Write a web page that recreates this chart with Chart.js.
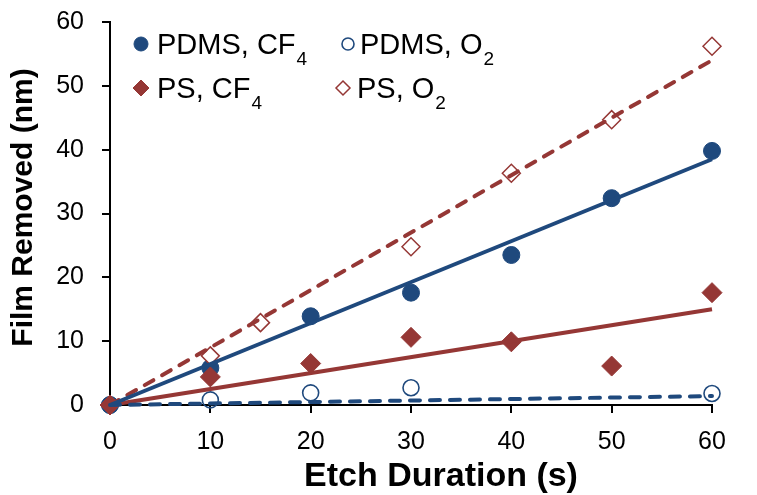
<!DOCTYPE html>
<html>
<head>
<meta charset="utf-8">
<script src="https://cdn.jsdelivr.net/npm/chart.js@4/dist/chart.umd.min.js"></script>
<style>
  html, body { margin: 0; padding: 0; background: #fff; }
  #wrap { width: 757px; height: 495px; }
</style>
</head>
<body>
<div id="wrap"><canvas id="c" width="757" height="495"></canvas></div>
<script>
// Etch time (s) and film removed (nm) for each polymer / plasma combination
const etchTimes   = [0, 10, 20, 30, 40, 50, 60];
const pdmsCF4     = [0, 5.8, 13.9, 17.6, 23.5, 32.4, 39.8];
const pdmsO2Times = [0, 10, 20, 30, 60];
const pdmsO2      = [0, 0.8, 1.9, 2.7, 1.8];
const psCF4       = [0, 4.4, 6.5, 10.6, 9.9, 6.1, 17.6];
const psO2Times   = [0, 10, 15, 30, 40, 50, 60];
const psO2        = [0, 7.7, 12.9, 24.8, 36.3, 44.7, 56.2];

// Linear fits through the origin: start and end of each fitted line
const fitRange    = [0, 60];
const fitPdmsCF4  = [0, 38.5];
const fitPdmsO2   = [0, 1.4];
const fitPsCF4    = [0, 15.0];
const fitPsO2     = [0, 54.0];

const xTicks = [0, 10, 20, 30, 40, 50, 60];
const yTicks = [0, 10, 20, 30, 40, 50, 60];

const xTitle = 'Etch Duration (s)';
const yTitle = 'Film Removed (nm)';

// Legend text: main part and subscript
const legendNames = [
  ['PDMS, CF', '4'],
  ['PDMS, O', '2'],
  ['PS, CF', '4'],
  ['PS, O', '2']
];

const NAVY = '#1F497D';
const RED  = '#953735';
const FONT = '"Liberation Sans", Arial, Helvetica, sans-serif';

const pts = (xs, ys) => xs.map((x, i) => ({ x: x, y: ys[i] }));

const markerSets = [
  { data: pts(etchTimes, pdmsCF4),  style: 'circle',  fill: NAVY, stroke: NAVY, r: 8.5, bw: 1,   order: 3 },
  { data: pts(pdmsO2Times, pdmsO2), style: 'circle',  fill: 'rgba(255,255,255,0)', stroke: NAVY, r: 8, bw: 1.6, order: 4 },
  { data: pts(etchTimes, psCF4),    style: 'rectRot', fill: RED,  stroke: RED,  r: 10,  bw: 1,   order: 1 },
  { data: pts(psO2Times, psO2),     style: 'rectRot', fill: '#fff', stroke: RED, r: 9,  bw: 1.5, order: 2 }
];

const fitSets = [
  { data: pts(fitRange, fitPdmsCF4), color: NAVY, dash: [] },
  { data: pts(fitRange, fitPdmsO2),  color: NAVY, dash: [10, 10] },
  { data: pts(fitRange, fitPsCF4),   color: RED,  dash: [] },
  { data: pts(fitRange, fitPsO2),    color: RED,  dash: [10, 10] }
];

const datasets = [];
fitSets.forEach(f => datasets.push({
  data: f.data,
  showLine: true,
  borderColor: f.color,
  borderWidth: 4,
  borderDash: f.dash,
  borderCapStyle: f.dash.length ? 'round' : 'butt',
  pointRadius: 0,
  pointHoverRadius: 0,
  clip: false,
  order: 0
}));
markerSets.forEach(m => datasets.push({
  data: m.data,
  showLine: false,
  pointStyle: m.style,
  pointRadius: m.r,
  pointHoverRadius: m.r,
  pointBackgroundColor: m.fill,
  pointBorderColor: m.stroke,
  pointBorderWidth: m.bw,
  clip: false,
  order: m.order
}));

// Two-column legend in the upper-left of the plot, with subscripted formulas
const legendLayout = [
  { mx: 141, tx: 157, y: 44 },
  { mx: 348, tx: 360, y: 44 },
  { mx: 141, tx: 157, y: 88 },
  { mx: 343, tx: 357, y: 88 }
];
const legendR = [7, 6, 8, 7];

function drawMarker(ctx, m, x, y, r) {
  ctx.save();
  ctx.beginPath();
  if (m.style === 'circle') {
    ctx.arc(x, y, r, 0, Math.PI * 2);
  } else {
    ctx.moveTo(x, y - r);
    ctx.lineTo(x + r, y);
    ctx.lineTo(x, y + r);
    ctx.lineTo(x - r, y);
    ctx.closePath();
  }
  ctx.fillStyle = m.fill;
  ctx.fill();
  ctx.lineWidth = m.bw;
  ctx.strokeStyle = m.stroke;
  ctx.stroke();
  ctx.restore();
}

const legendPlugin = {
  id: 'formulaLegend',
  afterDraw(chart) {
    const ctx = chart.ctx;
    legendNames.forEach((name, i) => {
      const L = legendLayout[i];
      drawMarker(ctx, markerSets[i], L.mx, L.y, legendR[i]);
      ctx.save();
      ctx.fillStyle = '#000';
      ctx.textBaseline = 'alphabetic';
      ctx.textAlign = 'left';
      ctx.font = '29px ' + FONT;
      const base = L.y + 10;
      ctx.fillText(name[0], L.tx, base);
      const w = ctx.measureText(name[0]).width;
      ctx.font = '19px ' + FONT;
      ctx.fillText(name[1], L.tx + w + 1, base + 11);
      ctx.restore();
    });
  }
};

// Axis titles, placed relative to the plot area
const axisTitlePlugin = {
  id: 'axisTitles',
  afterDraw(chart) {
    const ctx = chart.ctx;
    const a = chart.chartArea;
    ctx.save();
    ctx.fillStyle = '#000';
    ctx.textAlign = 'center';
    ctx.textBaseline = 'middle';
    ctx.font = 'bold 34px ' + FONT;
    ctx.fillText(xTitle, (a.left + a.right) / 2 + 30, 477);
    ctx.translate(24, (a.top + a.bottom) / 2 - 6);
    ctx.rotate(-Math.PI / 2);
    ctx.font = 'bold 30px ' + FONT;
    ctx.fillText(yTitle, 0, 0);
    ctx.restore();
  }
};

const axisCommon = {
  type: 'linear',
  min: 0,
  max: 60,
  grid: {
    display: true,
    drawOnChartArea: false,
    drawTicks: true,
    tickLength: 8,
    color: '#000',
    lineWidth: 2
  },
  border: { display: true, color: '#000', width: 2 }
};

new Chart(document.getElementById('c'), {
  type: 'scatter',
  data: { datasets: datasets },
  plugins: [legendPlugin, axisTitlePlugin],
  options: {
    responsive: false,
    devicePixelRatio: 1,
    animation: false,
    events: [],
    layout: { autoPadding: false, padding: { left: 0, right: 45, top: 22, bottom: 0 } },
    plugins: {
      legend: { display: false },
      tooltip: { enabled: false }
    },
    scales: {
      x: Object.assign({}, axisCommon, {
        position: 'bottom',
        afterBuildTicks: s => { s.ticks = xTicks.map(v => ({ value: v })); },
        afterFit: s => { s.height = 90; s.paddingLeft = 0; s.paddingRight = 0; },
        ticks: { color: '#000', font: { family: FONT, size: 25 }, padding: 14, maxRotation: 0 }
      }),
      y: Object.assign({}, axisCommon, {
        position: 'left',
        afterBuildTicks: s => { s.ticks = yTicks.map(v => ({ value: v })); },
        afterFit: s => { s.width = 110; s.paddingTop = 0; s.paddingBottom = 0; },
        ticks: { color: '#000', font: { family: FONT, size: 25 }, padding: 18 }
      })
    }
  }
});
</script>
</body>
</html>
